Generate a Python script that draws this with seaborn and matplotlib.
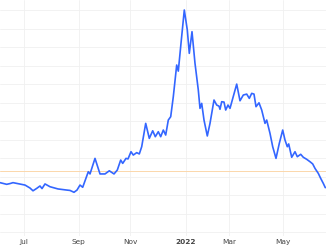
import matplotlib
matplotlib.use("Agg")
import matplotlib.pyplot as plt
import seaborn as sns
import pandas as pd

# time position (sample axis) and series values
t = [0, 6.7, 10, 13, 25, 30, 33, 36.7, 40, 42, 45, 50, 58, 66.7, 70, 74, 77, 80, 82.7,
     88.3, 90, 95, 100, 105, 109.3, 114, 117.3, 120.7, 122.7, 126, 128, 131, 133.3, 136.7,
     139.3, 141.7, 145.7, 149.3, 152.7, 155.3, 158.3, 160.7, 163.3, 165.7, 168.3, 170.7,
     173.3, 176.7, 178.3, 181, 184.3, 187.3, 189.3, 192, 195, 198.3, 200, 201.7, 204,
     207.3, 210, 214, 216.7, 219, 220, 221.7, 224, 225.7, 228, 230, 232.3, 236.7, 240,
     243.3, 246.7, 249.3, 251.7, 254, 256, 259, 261.7, 265, 266.7, 270, 272.7, 276,
     279.3, 282.7, 285, 287.3, 288.7, 291.7, 295, 297.3, 300.7, 303.3, 306.7, 310,
     312.7, 315, 318.3, 320.7, 323.3, 325.3]
values = [26.8, 25.9, 26.3, 26.8, 25.5, 23.9, 22.4, 23.7, 25.0, 23.6, 26.1, 24.6, 23.4,
          22.8, 22.6, 21.6, 22.8, 25.5, 24.3, 32.7, 31.5, 39.9, 31.5, 31.5, 33.2, 31.5,
          33.6, 39.0, 37.2, 39.9, 39.6, 43.5, 41.7, 43.0, 42.3, 46.2, 58.8, 50.7, 54.8,
          51.6, 54.3, 51.6, 55.2, 52.5, 60.6, 62.4, 73.2, 90.3, 87.0, 102.0, 120.0, 109.2,
          96.6, 108.3, 91.2, 76.8, 66.9, 69.6, 60.6, 52.0, 58.8, 71.4, 68.7, 68.1, 66.4,
          70.5, 70.3, 66.0, 68.7, 66.9, 71.4, 80.0, 71.0, 74.1, 74.6, 72.3, 75.0, 74.6,
          67.8, 69.9, 66.0, 58.8, 60.6, 53.4, 46.2, 39.9, 48.0, 55.2, 49.8, 46.2, 47.7,
          40.5, 43.5, 40.8, 42.1, 40.5, 39.4, 38.1, 36.9, 34.5, 31.8, 29.1, 26.4, 24.1]
reference_level = 32.9

tick_pos = [23.5, 78.5, 130, 185.7, 229.3, 282.7]
tick_labels = ["Jul", "Sep", "Nov", "2022", "Mar", "May"]
y_grid = [0, 10, 20, 30, 40, 50, 60, 70, 80, 90, 100, 110, 120]

df = pd.DataFrame({"t": t, "value": values})

sns.set_style("white")
fig = plt.figure(figsize=(3.26, 2.45), dpi=100)
ax = fig.add_axes([0, 1 - 236 / 245, 1, 236 / 245])

for yv in y_grid:
    ax.axhline(yv, color="#f0f0f0", lw=0.6, zorder=0)
for xv in tick_pos:
    ax.axvline(xv, color="#f0f0f0", lw=0.6, zorder=0)
ax.axhline(reference_level, color="#fbd7ab", lw=0.7, zorder=1)

sns.lineplot(data=df, x="t", y="value", ax=ax, color="#3366ff", lw=1.2, zorder=3)

ax.set_xlim(0, 326)
ax.set_ylim(-2.0, 125.4)
ax.set_xticks(tick_pos)
ax.set_xticklabels(tick_labels, fontsize=5.3, color="#444444")
for lab in ax.get_xticklabels():
    if lab.get_text() == "2022":
        lab.set_fontweight("bold")
ax.tick_params(axis="x", length=0, pad=2.5)
ax.set_yticks([])
ax.set_xlabel("")
ax.set_ylabel("")
for s in ax.spines.values():
    s.set_visible(False)

fig.savefig("out.png", dpi=100)
